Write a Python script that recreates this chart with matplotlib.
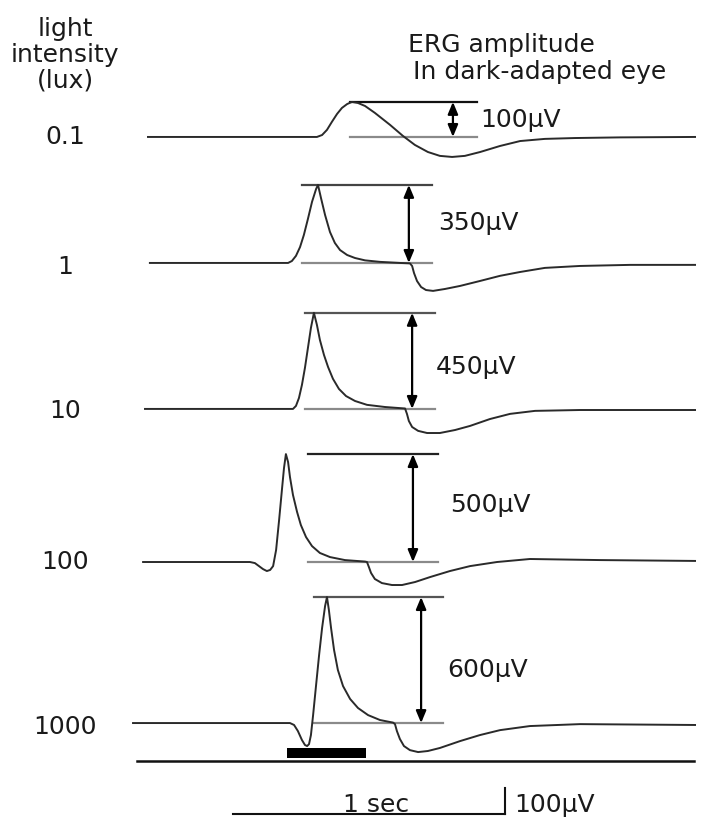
import matplotlib
matplotlib.use("Agg")
import matplotlib.pyplot as plt
from matplotlib.transforms import blended_transform_factory

plt.rcParams['font.family'] = ['DejaVu Sans']

# ---------------- data (time in ms from stimulus onset, amplitude in µV) ----------------
intensity_labels = ["0.1", "1", "10", "100", "1000"]
amplitude_labels = ["100µV", "350µV", "450µV", "500µV", "600µV"]

t_01 = [-511, 110, 129, 147, 165, 184, 202, 221, 239, 261, 287, 323, 379, 426, 470, 518,
        562, 607, 654, 710, 783, 857, 948, 1059, 1224, 1500]
v_01 = [0, 0, 9, 33, 70, 107, 135, 153, 163, 158, 144, 112, 56, 5, -37, -70,
        -88, -93, -88, -70, -42, -19, -9, -5, -2, 0]

t_1 = [-504, 4, 18, 33, 48, 62, 77, 92, 107, 114, 125, 140, 158, 176, 195, 221, 250, 287,
       342, 415, 452, 460, 467, 478, 493, 511, 537, 581, 636, 709, 783, 857, 948, 1077, 1261, 1500]
v_1 = [0, 0, 9, 33, 74, 130, 205, 284, 344, 363, 302, 223, 144, 93, 60, 37, 23, 12,
       5, 0, -2, -14, -47, -84, -112, -126, -130, -121, -107, -84, -60, -42, -23, -14, -9, -9]

t_10 = [-522, 22, 33, 44, 55, 66, 77, 88, 99, 110, 121, 136, 151, 169, 191, 217, 250, 294,
        360, 434, 441, 448, 460, 482, 515, 562, 618, 673, 746, 820, 912, 1077, 1500]
v_10 = [0, 0, 14, 51, 112, 191, 284, 377, 447, 391, 321, 251, 195, 140, 93, 60, 37, 19,
        9, 2, -23, -56, -84, -102, -112, -112, -98, -79, -47, -23, -9, -5, -5]

t_100 = [-529, -136, -118, -103, -88, -74, -62, -51, -40, -29, -18, -11, -4, 4, 11, 22, 37,
         51, 70, 92, 121, 158, 213, 287, 294, 301, 309, 323, 349, 386, 423, 471, 526, 599,
         673, 772, 893, 1151, 1500]
v_100 = [0, 0, -5, -19, -33, -42, -37, -19, 56, 195, 344, 437, 502, 465, 395, 312, 233,
         172, 116, 74, 42, 23, 9, 2, 0, -23, -51, -79, -98, -107, -107, -93, -70, -42,
         -19, 0, 14, 9, 5]

t_1000 = [-566, 11, 26, 40, 55, 66, 74, 81, 88, 96, 107, 118, 129, 140, 147, 154, 162, 173,
          187, 206, 232, 261, 298, 342, 390, 397, 404, 415, 430, 452, 482, 518, 562, 636,
          709, 783, 893, 1077, 1500]
v_1000 = [0, 0, -9, -37, -79, -102, -107, -98, -56, 37, 177, 316, 442, 544, 586, 526, 442, 340,
          247, 172, 112, 70, 37, 14, 2, -5, -37, -74, -107, -126, -135, -130, -116, -84,
          -56, -33, -14, -5, -9]

traces_t = [t_01, t_1, t_10, t_100, t_1000]
traces_v = [v_01, v_1, v_10, v_100, v_1000]

stim_on_ms = 0
stim_off_ms = 290
scale_time_ms = 1000

# ---------------- layout ----------------
trace_offsets = [-637, -1223, -1902, -2614, -3363]     # vertical stacking of traces (data units)
ann_x0 = [232, 55, 66, 77, 99]                          # amplitude guide lines start
ann_x1 = [698, 533, 544, 555, 573]                      # amplitude guide lines end
ann_arrow_x = [610, 448, 460, 463, 493]
amp_label_pos = [(709, 79), (555, 186), (548, 195), (599, 265), (588, 246)]
int_label_dy = [0, -19, -9, 0, -19]
top_line_colors = ['#111111', '#444444', '#555555', '#222222', '#555555']
TXT = '#1a1a1a'
FS = 18

fig = plt.figure(figsize=(7.07, 8.17), dpi=100)
ax = fig.add_axes([0, 0, 1, 1])
ax.set_xlim(-1055, 1544)
ax.set_ylim(-3800, 0)
ax.axis('off')

blend = blended_transform_factory(ax.transAxes, ax.transData)

for i in range(5):
    off = trace_offsets[i]
    tv = traces_t[i]
    vv = [v + off for v in traces_v[i]]
    ax.plot(tv, vv, color='#2a2a2a', lw=1.4, solid_joinstyle='round', zorder=3)
    top = max(traces_v[i]) + off
    ax.plot([ann_x0[i], ann_x1[i]], [top, top], color=top_line_colors[i], lw=1.6, zorder=2)
    ax.plot([ann_x0[i], ann_x1[i]], [off, off], color='#8a8a8a', lw=1.6, zorder=2)
    ax.annotate('', xy=(ann_arrow_x[i], top), xytext=(ann_arrow_x[i], off),
                arrowprops=dict(arrowstyle='<|-|>,head_length=0.6,head_width=0.25',
                                color='black', lw=1.6,
                                mutation_scale=12, shrinkA=0, shrinkB=0), zorder=4)
    lx, ly = amp_label_pos[i]
    ax.text(lx, off + ly, amplitude_labels[i], fontsize=FS, color=TXT,
            ha='left', va='center')
    ax.text(0.092, off + int_label_dy[i], intensity_labels[i], transform=blend,
            fontsize=FS, color=TXT, ha='center', va='center')

# stimulus bar and time axis line
ax.plot([-551, 1496], [-3539, -3539], color='#111111', lw=1.8)
ax.bar(stim_on_ms, 47, width=stim_off_ms - stim_on_ms, bottom=-3525,
       align='edge', color='black')

# scale bar
sb_x0 = -199
sb_y = -3786
ax.plot([sb_x0, sb_x0 + scale_time_ms], [sb_y, sb_y], color='#111111', lw=1.5)
ax.plot([sb_x0 + scale_time_ms, sb_x0 + scale_time_ms], [sb_y, sb_y + 121],
        color='#111111', lw=1.5)
ax.text(sb_x0 + scale_time_ms / 2 + 26, -3744, '1 sec', fontsize=FS, color=TXT,
        ha='center', va='center')
ax.text(834, -3744, '100µV', fontsize=FS, color=TXT, ha='left', va='center')

# headers
fig.text(0.092, 1 - 55 / 817, 'light\nintensity\n(lux)', fontsize=FS, color=TXT,
         ha='center', va='center', multialignment='center', linespacing=1.1)
fig.text(408 / 707, 1 - 45 / 817, 'ERG amplitude', fontsize=FS, color=TXT,
         ha='left', va='center')
fig.text(413 / 707, 1 - 72 / 817, 'In dark-adapted eye', fontsize=FS, color=TXT,
         ha='left', va='center')

fig.savefig('out.png', dpi=100, facecolor='white')
